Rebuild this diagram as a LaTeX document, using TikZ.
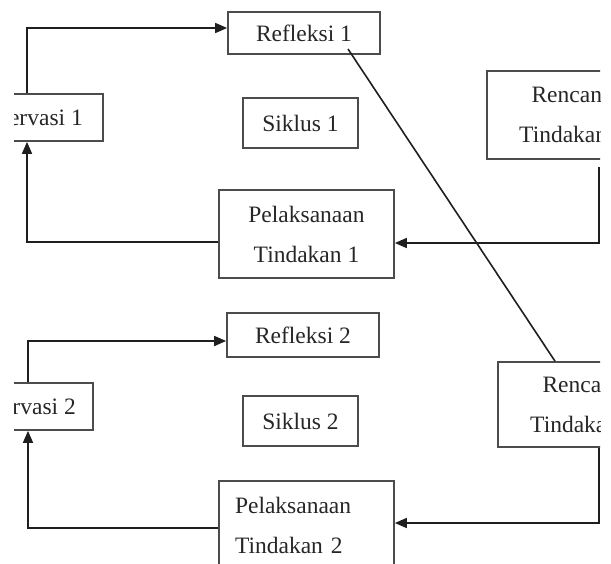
\documentclass[tikz,border=0pt]{standalone}
\usepackage{fontspec}
\setmainfont{Liberation Serif}
\usetikzlibrary{arrows.meta}
\begin{document}
\begin{tikzpicture}[x=1pt,y=-1pt,
  box/.style={draw=black!70, line width=1.7pt, inner sep=0pt, align=center,
    text=black!85, font=\fontsize{23.5}{40}\selectfont},
  arr/.style={draw=black!88, line width=1.6pt, -{Triangle[length=12pt,width=10pt]}},
  ln/.style={draw=black!88, line width=1.6pt}]
\useasboundingbox (0,0) rectangle (611,563);
\clip (14,0) rectangle (600,563);
% Siklus 1
\node[box, minimum width=152pt, minimum height=42pt] (ref1) at (304,33) {Refleksi 1};
\node[box, minimum width=115pt, minimum height=50pt] (sik1) at (300.5,123) {Siklus 1};
\node[box, minimum width=152pt, minimum height=47pt] (obs1) at (27,117.5) {Observasi 1};
\node[box, minimum width=175pt, minimum height=88pt] (pl1) at (306.5,234) {Pelaksanaan\\Tindakan 1};
\node[box, minimum width=170pt, minimum height=88pt] (rt1) at (572,115) {Rencana\\Tindakan 1};
% Siklus 2
\node[box, minimum width=152pt, minimum height=44pt] (ref2) at (303,335) {Refleksi 2};
\node[box, minimum width=115pt, minimum height=50pt] (sik2) at (300.5,421) {Siklus 2};
\node[box, minimum width=146pt, minimum height=47pt] (obs2) at (20,406.5) {Observasi 2};
\node[box, minimum width=170pt, minimum height=85pt] (rt2) at (583,404.5) {Rencana\\Tindakan 2};
\node[box, minimum width=175pt, minimum height=88pt, text width=143pt, align=left] (pl2) at (306.5,525) {Pelaksanaan\\Tindakan 2};
% connectors cycle 1
\draw[arr] (obs1.north) |- ([yshift=5pt]ref1.west);
\draw[arr] ([yshift=-8pt]pl1.west) -| (obs1.south);
\draw[arr] ([xshift=27pt,yshift=-7pt]rt1.south) |- ([yshift=-9pt]pl1.east);
% link between cycles
\draw[ln] ([xshift=44pt,yshift=-16pt]ref1.center) -- ([xshift=-28pt]rt2.north);
% connectors cycle 2
\draw[arr] ([xshift=8pt]obs2.north) |- ([yshift=-6pt]ref2.west);
\draw[arr] ([yshift=-3pt]pl2.west) -| ([xshift=8pt]obs2.south);
\draw[arr] ([xshift=16pt]rt2.south) |- ([yshift=2pt]pl2.east);
\end{tikzpicture}
\end{document}
